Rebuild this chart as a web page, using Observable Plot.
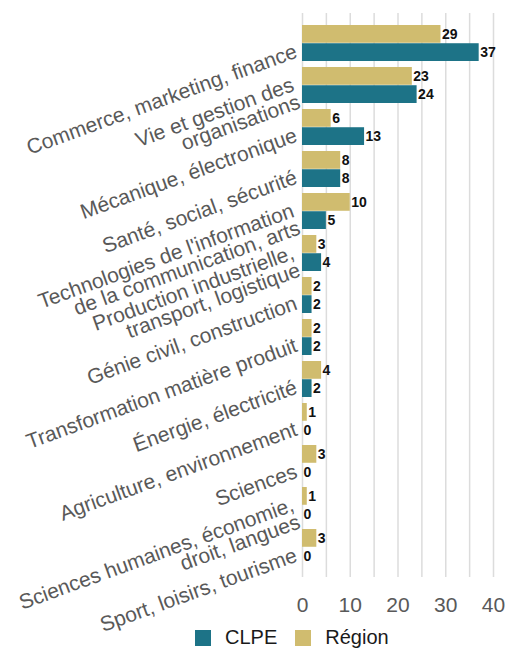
<!DOCTYPE html>
<html><head><meta charset="utf-8">
<script src="https://cdn.jsdelivr.net/npm/d3@7"></script>
<script src="https://cdn.jsdelivr.net/npm/@observablehq/plot@0.6"></script>
<style>
body{margin:0;background:#fff;font-family:"Liberation Sans",Arial,sans-serif;position:relative}
#chart svg{display:block}
#legend{position:absolute;left:195px;top:622px;display:flex;align-items:center;height:31px;font-size:20px;color:#1a1a1a}
#legend .sw{width:16px;height:16px;display:inline-block;margin-right:14px}
#legend .it{display:flex;align-items:center;margin-right:18px}
</style>
</head><body><div id="chart"></div><div id="legend"></div>
<script>
const categories = [
  "Commerce, marketing, finance",
  "Vie et gestion des\norganisations",
  "Mécanique, électronique",
  "Santé, social, sécurité",
  "Technologies de l'information\nde la communication, arts",
  "Production industrielle,\ntransport, logistique",
  "Génie civil, construction",
  "Transformation matière produit",
  "Énergie, électricité",
  "Agriculture, environnement",
  "Sciences",
  "Sciences humaines, économie,\ndroit, langues",
  "Sport, loisirs, tourisme"
];
const clpe   = [37, 24, 13, 8, 5, 4, 2, 2, 2, 0, 0, 0, 0];
const region = [29, 23, 6, 8, 10, 3, 2, 2, 4, 1, 3, 1, 3];
const seriesNames = ["CLPE", "Région"];
const seriesColors = ["#1d7387", "#d0bc6f"];
const xTicks = [0, 10, 20, 30, 40];
const gridValues = [0, 5, 10, 15, 20, 25, 30, 35, 40];

const W = 507, H = 651, mT = 13, mB = 74, mL = 302, mR = 14, pad = 0.15;
const n = categories.length;
const step = (H - mT - mB) / (n - pad + 2 * pad);
const bw = step * (1 - pad);

const dClpe = categories.map((c, i) => ({cat: c, v: clpe[i]}));
const dRegion = categories.map((c, i) => ({cat: c, v: region[i]}));

const chart = Plot.plot({
  width: W, height: H,
  marginTop: mT, marginBottom: mB, marginLeft: mL, marginRight: mR,
  style: {fontFamily: '"Liberation Sans", Arial, sans-serif', background: "#fff", overflow: "visible"},
  x: {domain: [0, 40], axis: null},
  y: {domain: categories, padding: pad, axis: null},
  marks: [
    Plot.ruleX(gridValues, {stroke: "#dcdcdc", strokeWidth: 1.5}),
    Plot.barX(dRegion, {x: "v", y: "cat", fill: seriesColors[1], insetBottom: bw / 2}),
    Plot.barX(dClpe, {x: "v", y: "cat", fill: seriesColors[0], insetTop: bw / 2}),
    Plot.text(dRegion, {x: "v", y: "cat", text: d => String(d.v), dy: -bw / 4, dx: 1, textAnchor: "start", fontWeight: "bold", fontSize: 14, fill: "#111"}),
    Plot.text(dClpe, {x: "v", y: "cat", text: d => String(d.v), dy: bw / 4, dx: 1, textAnchor: "start", fontWeight: "bold", fontSize: 14, fill: "#111"}),
    Plot.axisY({tickSize: 0, tickPadding: 6, tickRotate: -20, fontSize: 21, lineHeight: 0.88, fill: "#595959", dy: 8, label: null}),
    Plot.axisX({ticks: xTicks, tickSize: 0, tickPadding: 20, fontSize: 21, fill: "#595959", label: null})
  ]
});
document.getElementById("chart").appendChild(chart);

const legend = document.getElementById("legend");
seriesNames.forEach((s, i) => {
  const it = document.createElement("span");
  it.className = "it";
  it.innerHTML = `<span class="sw" style="background:${seriesColors[i]}"></span>${s}`;
  legend.appendChild(it);
});
</script>
</body></html>
